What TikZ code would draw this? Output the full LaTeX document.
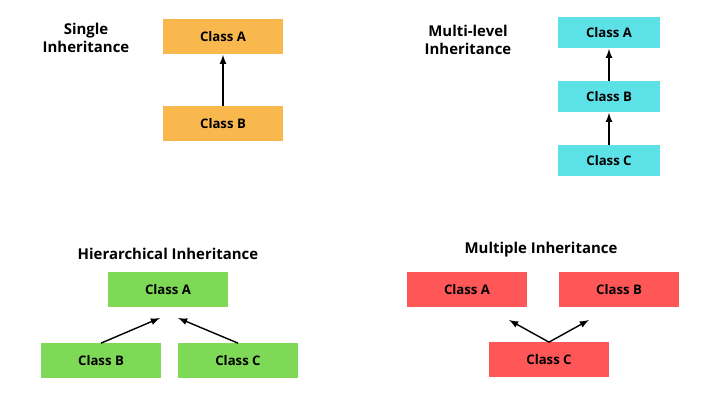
\documentclass[tikz,border=0pt]{standalone}
\usepackage{fontspec}
\setmainfont{Open Sans}
\usetikzlibrary{positioning, arrows}

\definecolor{orangebox}{HTML}{F9B84E}
\definecolor{cyanbox}{HTML}{5CE1E6}
\definecolor{greenbox}{HTML}{7ED957}
\definecolor{redbox}{HTML}{FF5757}

\tikzset{
    cls/.style={minimum width=2.4cm, minimum height=0.7cm, inner sep=0pt,
        font=\fontsize{7.5}{9}\selectfont\bfseries},
    title/.style={align=center, font=\fontsize{8.5}{10.5}\selectfont\bfseries},
    inh/.style={-latex, thick}
}

\begin{document}
\begin{tikzpicture}[x=0.02cm, y=-0.02cm]
    \useasboundingbox (0,0) rectangle (720,404);
    % single
    \node[title] at (86,38) {Single\\Inheritance};
    \node[cls, fill=orangebox] (sA) at (223,37) {Class A};
    \node[cls, fill=orangebox] (sB) at (223,124) {Class B};
    \draw[inh] (sB) -- (sA);
    % multi-level
    \node[title] at (468,40) {Multi-level\\Inheritance};
    \node[cls, fill=cyanbox, minimum width=2.04cm, minimum height=0.62cm] (mA) at (609,33) {Class A};
    \node[cls, fill=cyanbox, minimum width=2.04cm, minimum height=0.62cm] (mB) at (609,97) {Class B};
    \node[cls, fill=cyanbox, minimum width=2.04cm, minimum height=0.62cm] (mC) at (609,161) {Class C};
    \draw[inh] (mC) -- (mB);
    \draw[inh] (mB) -- (mA);
    % hierarchical
    \node[title] at (168,254) {Hierarchical Inheritance};
    \node[cls, fill=greenbox] (hA) at (168,290) {Class A};
    \node[cls, fill=greenbox] (hB) at (101,361) {Class B};
    \node[cls, fill=greenbox] (hC) at (238,361) {Class C};
    \coordinate (hL) at (160,318);
    \coordinate (hR) at (178,318);
    \draw[inh] (hB.north) -- (hL);
    \draw[inh] (hC.north) -- (hR);
    % multiple
    \node[title] at (541,250) {Multiple Inheritance};
    \node[cls, fill=redbox] (pA) at (467,290) {Class A};
    \node[cls, fill=redbox] (pB) at (619,290) {Class B};
    \node[cls, fill=redbox] (pC) at (549,360) {Class C};
    \coordinate (pL) at (509,320);
    \coordinate (pR) at (589,320);
    \draw[inh] (pC.north) -- (pL);
    \draw[inh] (pC.north) -- (pR);
\end{tikzpicture}
\end{document}
